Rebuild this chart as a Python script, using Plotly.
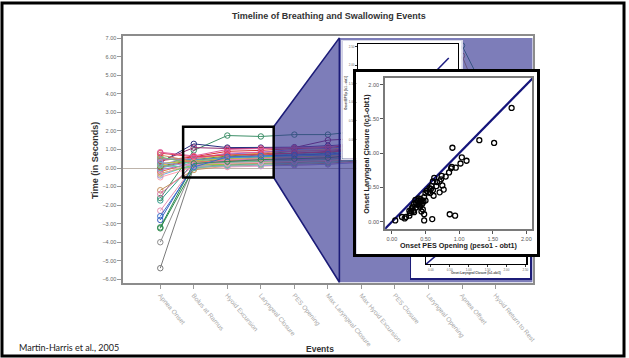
import plotly.graph_objects as go

W, H = 629, 358

# ---------------- data: main timeline chart ----------------
events = ["Apnea Onset", "Bolus at Ramus", "Hyoid Excursion", "Laryngeal Closure",
          "PES Opening", "Max Laryngeal Closure", "Max Hyoid Excursion", "PES Closure",
          "Laryngeal Opening", "Apnea Offset", "Hyoid Return to Rest"]
y_tick_values = [7, 6, 5, 4, 3, 2, 1, 0, -1, -2, -3, -4, -5, -6]

s01 = [-5.40, 0.05, 0.20, 0.30, 0.35, 0.45, 0.70, 0.90, 1.20, 1.50, 2.00]
s02 = [-4.00, 0.10, 0.30, 0.40, 0.50, 0.60, 0.80, 1.00, 1.30, 1.60, 2.10]
s03 = [-3.25, 0.00, 0.15, 0.25, 0.30, 0.40, 0.60, 0.80, 1.10, 1.40, 1.90]
s04 = [-2.80, 0.20, 0.40, 0.50, 0.55, 0.65, 0.90, 1.10, 1.40, 1.70, 2.20]
s05 = [-2.30, 0.10, 0.25, 0.35, 0.40, 0.50, 0.75, 0.95, 1.25, 1.55, 2.00]
s06 = [-1.75, 0.30, 0.50, 0.60, 0.70, 0.80, 1.00, 1.20, 1.50, 1.80, 2.30]
s07 = [-1.62, 0.95, 1.75, 1.70, 1.80, 1.80, 2.00, 2.30, 2.60, 6.60, 3.00]
s08 = [-1.20, -0.10, 0.10, 0.15, 0.20, 0.25, 0.40, 0.60, 0.90, 6.05, 1.60]
s09 = [-0.50, 0.05, 0.05, 0.10, 0.15, 0.20, 0.35, 0.50, 0.80, 1.10, 1.50]
s10 = [-0.40, 0.20, 0.30, 0.35, 0.40, 0.45, 0.60, 0.80, 1.00, 1.30, 1.70]
s11 = [-0.30, 0.15, 0.20, 0.30, 0.35, 0.40, 0.55, 0.75, 1.00, 1.30, 1.70]
s12 = [-0.20, 0.30, 0.45, 0.55, 0.60, 0.70, 0.85, 1.05, 1.30, 1.60, 2.00]
s13 = [-0.10, 0.25, 0.35, 0.40, 0.45, 0.50, 0.70, 0.90, 1.15, 1.45, 1.90]
s14 = [0.00, 0.35, 0.55, 0.65, 0.75, 0.85, 1.00, 1.20, 1.50, 1.80, 2.30]
s15 = [0.05, 0.40, 0.60, 0.70, 0.80, 0.90, 1.05, 1.30, 1.60, 1.90, 2.40]
s16 = [0.10, 0.45, 0.65, 0.75, 0.90, 0.95, 1.10, 1.35, 1.60, 1.90, 2.40]
s17 = [0.15, 0.50, 0.70, 0.80, 0.95, 1.00, 1.20, 1.40, 1.70, 2.00, 2.50]
s18 = [0.20, 0.55, 0.75, 0.85, 1.00, 1.05, 1.25, 1.50, 1.80, 2.10, 2.60]
s19 = [0.25, 0.40, 0.50, 0.55, 0.60, 0.65, 0.80, 1.00, 1.25, 1.55, 2.00]
s20 = [0.30, 1.30, 1.10, 1.10, 1.12, 1.20, 1.30, 1.50, 1.80, 2.10, 2.60]
s21 = [0.35, 1.10, 1.05, 1.05, 1.10, 1.50, 1.60, 1.80, 2.00, 2.30, 2.80]
s22 = [0.40, 0.60, 0.90, 0.95, 1.05, 1.10, 1.30, 1.50, 1.80, 2.10, 2.60]
s23 = [0.45, 0.50, 0.80, 0.85, 0.90, 0.95, 1.10, 1.30, 1.60, 1.90, 2.40]
s24 = [0.50, 0.45, 0.55, 0.60, 0.65, 0.70, 0.85, 1.05, 1.35, 1.65, 2.10]
s25 = [0.55, 0.30, 0.40, 0.45, 0.50, 0.55, 0.70, 0.90, 1.20, 1.50, 2.00]
s26 = [0.60, 0.20, 0.30, 0.35, 0.40, 0.45, 0.60, 0.80, 1.10, 1.40, 1.90]
s27 = [0.70, 0.35, 0.20, 0.25, 0.30, 0.35, 0.50, 0.70, 1.00, 1.30, 1.80]
s28 = [0.80, 0.60, 0.70, 0.75, 0.80, 0.85, 1.00, 1.20, 1.50, 1.80, 2.30]
s29 = [0.85, 0.65, 1.00, 1.05, 1.10, 1.15, 1.35, 1.60, 1.90, 2.20, 2.70]
s30 = [0.30, 0.10, 0.10, 0.12, 0.15, 0.20, 0.30, 0.50, 0.70, 1.00, 1.40]
s31 = [0.15, 0.00, 0.15, 0.20, 0.25, 0.30, 0.45, 0.65, 0.90, 1.20, 1.60]
s32 = [-0.35, 0.30, 0.25, 0.30, 0.35, 0.40, 0.55, 0.75, 1.00, 1.30, 1.80]
s33 = [-1.40, 0.15, 0.45, 0.50, 0.55, 0.60, 0.80, 1.00, 1.30, 1.60, 2.10]
s34 = [-3.20, 0.25, 0.35, 0.45, 0.50, 0.55, 0.75, 0.95, 1.20, 1.50, 2.00]
s35 = [-2.60, 0.05, 0.60, 0.65, 0.70, 0.75, 0.90, 1.10, 1.40, 1.70, 2.20]

subjects = [s01, s02, s03, s04, s05, s06, s07, s08, s09, s10, s11, s12, s13, s14, s15, s16, s17, s18,
            s19, s20, s21, s22, s23, s24, s25, s26, s27, s28, s29, s30, s31, s32, s33, s34, s35]

# ---------------- data: front inset scatter ----------------
pes_opening = [1.78, 1.30, 1.52, 0.90, 1.04, 1.11, 1.02, 0.95, 0.89, 0.88,
               0.85, 0.80, 0.74, 0.73, 0.71, 0.63, 0.67, 0.61, 0.75, 0.77,
               0.71, 0.59, 0.56, 0.61, 0.57, 0.62, 0.54, 0.50, 0.48, 0.44,
               0.50, 0.46, 0.41, 0.39, 0.36, 0.40, 0.33, 0.31, 0.36, 0.42,
               0.29, 0.32, 0.26, 0.29, 0.46, 0.44, 0.48, 0.48, 0.60, 0.86,
               0.94, 0.26, 0.21, 0.15, 0.19, 0.05, 0.40, 0.35, 0.38, 0.43,
               0.47, 0.30, 0.33, 0.27, 0.45, 0.52, 0.58, 0.66]
laryngeal_closure = [1.66, 1.19, 1.15, 1.08, 0.94, 0.89, 0.85, 0.79, 0.80, 0.78,
                     0.72, 0.66, 0.67, 0.62, 0.59, 0.64, 0.58, 0.59, 0.53, 0.47,
                     0.43, 0.52, 0.49, 0.46, 0.42, 0.38, 0.43, 0.42, 0.36, 0.31,
                     0.31, 0.28, 0.28, 0.31, 0.28, 0.24, 0.26, 0.22, 0.21, 0.22,
                     0.18, 0.16, 0.16, 0.15, 0.18, 0.15, 0.11, 0.02, 0.04, 0.11,
                     0.09, 0.09, 0.07, 0.07, 0.05, 0.02, 0.34, 0.32, 0.25, 0.33,
                     0.30, 0.20, 0.14, 0.13, 0.26, 0.45, 0.48, 0.52]
inset_ticks = [0.0, 0.5, 1.0, 1.5, 2.0]
identity_line = [-0.2, 2.2]
back_ticks = [0.0, 0.5, 1.0, 1.5, 2.0, 2.5]

# ---------------- styles ----------------
series_colors = ["#7a7a7a", "#8c8c8c", "#2f8a4a", "#3b5fc0", "#e58fb5", "#2e9a8a", "#3d8f68",
                 "#c28f5a", "#ff9fb0", "#66b3e0", "#9acd32", "#e07040", "#b070d0", "#40c0c0",
                 "#d04060", "#5a8f3a", "#f0b040", "#7070e0", "#c0c040", "#26307f", "#8e2a6e",
                 "#d83030", "#e060a0", "#4a9ad0", "#f07070", "#60c080", "#c89060", "#e04050",
                 "#e05a9a", "#a0a0e0", "#70c0a0", "#f0a0c0", "#e07fb0", "#2a8a50", "#3a70c8"]

FONT = "Liberation Sans"


def dom_x(a, b):
    return [a / W, b / W]


def dom_y(top, bottom):
    return [1 - bottom / H, 1 - top / H]


# main plot pixel frame and axis ranges
MX0, MX1, MY0, MY1 = 124, 536, 35, 283
X_RANGE = [-1.10, 11.13]
Y_RANGE = [-6.21, 7.12]


def to_x(px):
    return X_RANGE[0] + (px - MX0) / (MX1 - MX0) * (X_RANGE[1] - X_RANGE[0])


def to_y(py):
    return Y_RANGE[1] - (py - MY0) / (MY1 - MY0) * (Y_RANGE[1] - Y_RANGE[0])


fig = go.Figure()

idx = list(range(len(events)))
for vals, col in zip(subjects, series_colors):
    fig.add_trace(go.Scatter(
        x=idx, y=vals, mode="lines+markers", xaxis="x", yaxis="y",
        line=dict(color=col, width=1),
        marker=dict(symbol="circle-open", size=5.5, color=col, line=dict(width=1)),
        hoverinfo="skip", showlegend=False))

# purple magnification overlay (decoration, positioned in pixels)
poly_px = [(275, 126), (341, 37), (535, 37), (535, 282), (341, 282), (275, 177), (275, 126)]
fig.add_trace(go.Scatter(
    x=[to_x(p[0]) for p in poly_px], y=[to_y(p[1]) for p in poly_px],
    mode="lines", fill="toself", fillcolor="rgba(52,52,146,0.64)",
    line=dict(width=0), xaxis="x", yaxis="y", hoverinfo="skip", showlegend=False))
edge_px = [(275, 126), (341, 37), (341, 282), (275, 177)]
fig.add_trace(go.Scatter(
    x=[to_x(p[0]) for p in edge_px], y=[to_y(p[1]) for p in edge_px],
    mode="lines", line=dict(color="#1c1c78", width=1.6),
    xaxis="x", yaxis="y", hoverinfo="skip", showlegend=False))

# frame subplots (white backgrounds) need a dummy trace
for ax in ["2", "4", "6"]:
    fig.add_trace(go.Scatter(x=[None], y=[None], xaxis="x" + ax, yaxis="y" + ax,
                             hoverinfo="skip", showlegend=False))

# back inset 1 (top)
fig.add_trace(go.Scatter(x=identity_line, y=identity_line, mode="lines",
                         line=dict(color="#1c1c80", width=1.5), xaxis="x3", yaxis="y3",
                         hoverinfo="skip", showlegend=False))
# back inset 2 (bottom)
fig.add_trace(go.Scatter(x=identity_line, y=identity_line, mode="lines",
                         line=dict(color="#1c1c80", width=1.5), xaxis="x5", yaxis="y5",
                         hoverinfo="skip", showlegend=False))
# front inset
fig.add_trace(go.Scatter(x=identity_line, y=identity_line, mode="lines",
                         line=dict(color="#14147a", width=2.2), xaxis="x7", yaxis="y7",
                         hoverinfo="skip", showlegend=False))
fig.add_trace(go.Scatter(x=pes_opening, y=laryngeal_closure, mode="markers",
                         marker=dict(symbol="circle-open", size=5, color="black",
                                     line=dict(width=1.3)),
                         xaxis="x7", yaxis="y7", hoverinfo="skip", showlegend=False))


def frame_axes(x0, y0, x1, y1, color, width):
    xa = dict(domain=dom_x(x0, x1), range=[0, 1], showline=True, mirror=True,
              linecolor=color, linewidth=width, showticklabels=False, ticks="",
              showgrid=False, zeroline=False, fixedrange=True)
    ya = dict(domain=dom_y(y0, y1), range=[0, 1], showline=True, mirror=True,
              linecolor=color, linewidth=width, showticklabels=False, ticks="",
              showgrid=False, zeroline=False, fixedrange=True)
    return xa, ya


f2x, f2y = frame_axes(344, 40, 464, 158, "#d8d8e8", 1)
f4x, f4y = frame_axes(413, 190, 533, 278, "#1c1c78", 1.5)
f6x, f6y = frame_axes(358, 71, 540, 254, "black", 3)

tick_small = dict(size=3, color="#666", family=FONT)

layout = dict(
    width=W, height=H,
    margin=dict(l=0, r=0, t=0, b=0),
    paper_bgcolor="white", plot_bgcolor="white",
    showlegend=False,
    xaxis=dict(domain=dom_x(MX0, MX1), range=X_RANGE, anchor="y",
               tickvals=idx, ticktext=events, tickangle=50,
               tickfont=dict(size=6.5, color="#a8a8a8", family=FONT),
               ticks="outside", ticklen=4, tickcolor="#999",
               showline=True, linecolor="#8c8c8c", linewidth=2, mirror=True,
               showgrid=False, zeroline=False),
    yaxis=dict(domain=dom_y(MY0, MY1), range=Y_RANGE, anchor="x",
               tickvals=y_tick_values, tickformat=".2f",
               tickfont=dict(size=5.5, color="#666", family=FONT),
               ticks="outside", ticklen=4, tickcolor="#999",
               showline=True, linecolor="#8c8c8c", linewidth=2, mirror=True,
               showgrid=False, zeroline=True, zerolinecolor="#bdb3aa", zerolinewidth=1),
    xaxis2=dict(f2x, anchor="y2"), yaxis2=dict(f2y, anchor="x2"),
    xaxis3=dict(domain=dom_x(360, 460), range=[-0.3, 2.45], anchor="y3",
                showticklabels=False, ticks="", showline=True, mirror=True,
                linecolor="black", linewidth=1.2, showgrid=False, zeroline=False),
    yaxis3=dict(domain=dom_y(43, 150), range=[-0.3, 2.58], anchor="x3",
                tickvals=back_ticks, tickformat=".2f", tickfont=tick_small,
                ticks="outside", ticklen=2, tickcolor="#333",
                showline=True, mirror=True, linecolor="black", linewidth=1.2,
                showgrid=False, zeroline=False),
    xaxis4=dict(f4x, anchor="y4"), yaxis4=dict(f4y, anchor="x4"),
    xaxis5=dict(domain=dom_x(428, 529), range=[-0.13, 2.53], anchor="y5",
                tickvals=back_ticks, tickformat=".2f", tickfont=tick_small,
                ticks="outside", ticklen=2, tickcolor="#333",
                showline=True, mirror=True, linecolor="black", linewidth=1.2,
                showgrid=False, zeroline=False),
    yaxis5=dict(domain=dom_y(195, 264), range=[-0.13, 2.0], anchor="x5",
                showticklabels=False, ticks="", showline=True, mirror=True,
                linecolor="black", linewidth=1.2, showgrid=False, zeroline=False),
    xaxis6=dict(f6x, anchor="y6"), yaxis6=dict(f6y, anchor="x6"),
    xaxis7=dict(domain=dom_x(387, 535), range=[-0.10, 2.09], anchor="y7",
                tickvals=inset_ticks, tickformat=".2f",
                tickfont=dict(size=5.5, color="#555", family=FONT),
                ticks="outside", ticklen=3, tickcolor="#555",
                showline=True, mirror=True, linecolor="#7a7a7a", linewidth=2,
                showgrid=False, zeroline=False),
    yaxis7=dict(domain=dom_y(77, 229), range=[-0.11, 2.10], anchor="x7",
                tickvals=inset_ticks, tickformat=".2f",
                tickfont=dict(size=5.5, color="#555", family=FONT),
                ticks="outside", ticklen=3, tickcolor="#555",
                showline=True, mirror=True, linecolor="#7a7a7a", linewidth=2,
                showgrid=False, zeroline=False),
)
fig.update_layout(**layout)


def ann(text, x, y, size, color="#333", bold=False, angle=0, family=FONT, xanchor="center"):
    fig.add_annotation(text=("<b>%s</b>" % text) if bold else text,
                       x=x / W, y=1 - y / H, xref="paper", yref="paper",
                       showarrow=False, textangle=angle, xanchor=xanchor, yanchor="middle",
                       font=dict(size=size, color=color, family=family))


ann("Timeline of Breathing and Swallowing Events", 331, 15, 9, "#333", True)
ann("Time (in Seconds)", 95, 160, 9, "#333", True, -90)
ann("Events", 322, 349, 8.5, "#333", True)
ann("Martin-Harris et al., 2005", 17, 347, 9, "#222", False, 0, "Lato", "left")
ann("Onset PES Opening (peso1 - obt1)", 461, 245, 7.2, "#222", True)
ann("Onset Laryngeal Closure (lc1-obt1)", 368, 153, 7.2, "#222", True, -90)
ann("Onset Laryngeal Closure (lc1-obt1)", 478, 273, 3, "#444", True)
ann("Onset BP Ep (lc1 - obt1)", 347, 92, 3, "#444", True, -90)

# zoom box and slide border
fig.add_shape(type="rect", xref="paper", yref="paper",
              x0=184 / W, x1=275 / W, y0=1 - 177 / H, y1=1 - 126 / H,
              line=dict(color="black", width=2.5), layer="above")
fig.add_shape(type="rect", xref="paper", yref="paper",
              x0=2 / W, x1=627 / W, y0=1 - 356 / H, y1=1 - 2 / H,
              line=dict(color="black", width=3), layer="above")

fig.write_html("out.html",
               config={"displayModeBar": False, "staticPlot": True},
               post_script="document.body.style.margin='0';document.body.style.overflow='hidden';")
